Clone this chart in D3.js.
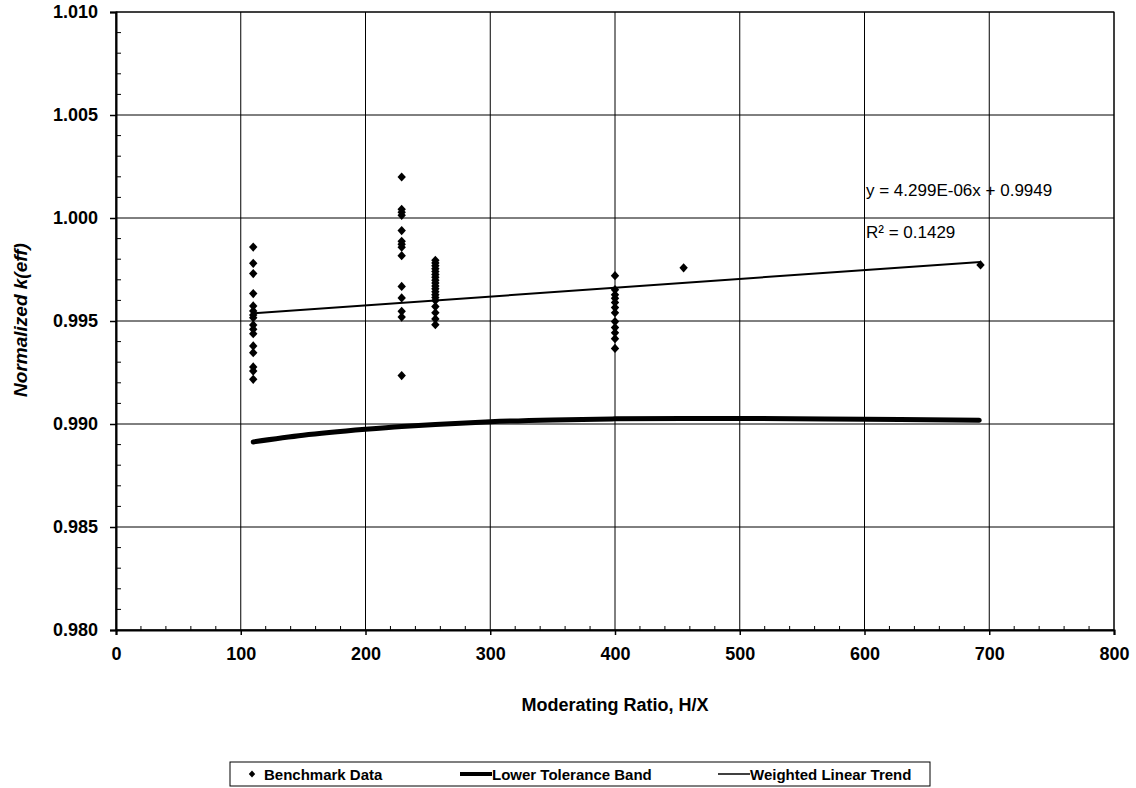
<!DOCTYPE html>
<html><head><meta charset="utf-8">
<script src="https://cdn.jsdelivr.net/npm/d3@7"></script>
<style>
body{margin:0;background:#fff;}
text{font-family:Arial,"Liberation Sans",sans-serif;}
</style></head>
<body><svg id="chart" width="1136" height="788"></svg>
<script>
// Benchmark data: [H/X, normalized keff]
const benchX110 = [0.99859,0.99780,0.99730,0.99633,0.99573,0.99549,0.99529,0.99516,0.99481,0.99460,0.99438,0.99379,0.99346,0.99277,0.99257,0.99217];
const benchX229 = [1.00199,1.00042,1.00028,1.00013,0.99939,0.99887,0.99872,0.99858,0.99817,0.99668,0.99612,0.99547,0.99519,0.99235];
const benchX256 = [0.99795,0.99782,0.99768,0.99754,0.99740,0.99726,0.99712,0.99698,0.99684,0.99670,0.99656,0.99642,0.99628,0.99614,0.99600,0.99570,0.99540,0.99510,0.99482];
const benchX400 = [0.99720,0.99652,0.99628,0.99610,0.99590,0.99565,0.99540,0.99497,0.99468,0.99443,0.99414,0.99367];
const benchSingles = [[455,0.99758],[693,0.99772]];
const benchGroups = [[110,benchX110],[229,benchX229],[256,benchX256],[400,benchX400]];

const bandX = [110,150,200,229,256,300,350,400,455,500,600,692];
const bandY = [0.98913,0.98945,0.98974,0.98988,0.98998,0.99011,0.99020,0.99025,0.99027,0.99027,0.99023,0.99018];

const trendX = [110,693];
const trendY = [0.99537,0.99787];

const xTicks = [0,100,200,300,400,500,600,700,800];
const yTicks = [0.980,0.985,0.990,0.995,1.000,1.005,1.010];

const eqText = "y = 4.299E-06x + 0.9949";
const r2Text = "R\u00B2 = 0.1429";
const legendItems = ["Benchmark Data","Lower Tolerance Band","Weighted Linear Trend"];

const svg = d3.select("#chart");
const L=116, R=1114, T=12, B=630;
const x = d3.scaleLinear().domain([0,800]).range([L,R]);
const y = d3.scaleLinear().domain([0.980,1.010]).range([B,T]);

// grid
const g = svg.append("g");
g.selectAll(".vg").data(xTicks).enter().append("line")
  .attr("x1",d=>x(d)).attr("x2",d=>x(d)).attr("y1",T).attr("y2",B)
  .attr("stroke","#000").attr("stroke-width",1);
g.selectAll(".hg").data(yTicks).enter().append("line")
  .attr("x1",L).attr("x2",R).attr("y1",d=>y(d)).attr("y2",d=>y(d))
  .attr("stroke","#000").attr("stroke-width",1);
svg.append("rect").attr("x",L).attr("y",T).attr("width",R-L).attr("height",B-T)
  .attr("fill","none").attr("stroke","#000").attr("stroke-width",1);

// axes
const yAxis = d3.axisLeft(y).tickValues(yTicks).tickFormat(d3.format(".3f")).tickSize(6).tickPadding(12);
const ya = svg.append("g").attr("transform",`translate(${L},0)`).call(yAxis);
const xAxis = d3.axisBottom(x).tickValues(xTicks).tickFormat(d3.format("d")).tickSize(5).tickPadding(12);
const xa = svg.append("g").attr("transform",`translate(0,${B})`).call(xAxis);
[ya,xa].forEach(a=>{
  a.select(".domain").attr("stroke","#000").attr("stroke-width",2);
  a.selectAll(".tick line").attr("stroke","#000").attr("stroke-width",1.5);
  a.selectAll("text").attr("font-size",18).attr("font-weight","bold").attr("fill","#000")
   .style("font-family","Arial, 'Liberation Sans', sans-serif");
});
// minor ticks (inside)
const yMinor = d3.range(0,31).map(i=>0.980+i*0.001).filter((d,i)=>i%5!==0);
svg.append("g").selectAll("line").data(yMinor).enter().append("line")
  .attr("x1",L).attr("x2",L+5).attr("y1",d=>y(d)).attr("y2",d=>y(d))
  .attr("stroke","#000").attr("stroke-width",1);
const xMinor = d3.range(0,41).map(i=>i*20).filter((d,i)=>i%5!==0);
svg.append("g").selectAll("line").data(xMinor).enter().append("line")
  .attr("x1",d=>x(d)).attr("x2",d=>x(d)).attr("y1",B).attr("y2",B-4)
  .attr("stroke","#000").attr("stroke-width",1);

// lower tolerance band
const line = d3.line().x(d=>x(d[0])).y(d=>y(d[1])).curve(d3.curveMonotoneX);
svg.append("path").datum(bandX.map((v,i)=>[v,bandY[i]]))
  .attr("d",line).attr("fill","none").attr("stroke","#000").attr("stroke-width",5).attr("stroke-linecap","round");
// trend
svg.append("path").datum(trendX.map((v,i)=>[v,trendY[i]]))
  .attr("d",d3.line().x(d=>x(d[0])).y(d=>y(d[1])))
  .attr("fill","none").attr("stroke","#000").attr("stroke-width",2);

// points
const pts = [];
benchGroups.forEach(([hx,vals])=>vals.forEach(v=>pts.push([hx,v])));
benchSingles.forEach(p=>pts.push(p));
const diamond = "M0,-4.6L4.2,0L0,4.6L-4.2,0Z";
svg.append("g").selectAll("path").data(pts).enter().append("path")
  .attr("d",diamond).attr("transform",d=>`translate(${x(d[0])},${y(d[1])})`).attr("fill","#000");

// annotations
svg.append("text").attr("x",866).attr("y",196).attr("font-size",17).text(eqText);
svg.append("text").attr("x",866).attr("y",238).attr("font-size",17).text(r2Text);

// axis titles
svg.append("text").attr("x",(L+R)/2).attr("y",711).attr("text-anchor","middle")
  .attr("font-size",18).attr("font-weight","bold").text("Moderating Ratio, H/X");
svg.append("text").attr("transform","translate(27,320) rotate(-90)").attr("text-anchor","middle")
  .attr("font-size",19).attr("font-weight","bold").attr("font-style","italic").text("Normalized k(eff)");

// legend
const lg = svg.append("g");
lg.append("rect").attr("x",230).attr("y",762).attr("width",700).attr("height",24)
  .attr("fill","#fff").attr("stroke","#000").attr("stroke-width",1);
lg.append("path").attr("d","M0,-3.5L3.2,0L0,3.5L-3.2,0Z").attr("transform","translate(252,774)").attr("fill","#000");
lg.append("text").attr("x",264).attr("y",779.5).attr("font-size",15).attr("font-weight","bold").text(legendItems[0]);
lg.append("line").attr("x1",460).attr("x2",492).attr("y1",774).attr("y2",774).attr("stroke","#000").attr("stroke-width",4);
lg.append("text").attr("x",492).attr("y",779.5).attr("font-size",15).attr("font-weight","bold").text(legendItems[1]);
lg.append("line").attr("x1",718).attr("x2",750).attr("y1",774).attr("y2",774).attr("stroke","#000").attr("stroke-width",1.5);
lg.append("text").attr("x",750).attr("y",779.5).attr("font-size",15).attr("font-weight","bold").text(legendItems[2]);
</script>
</body></html>
